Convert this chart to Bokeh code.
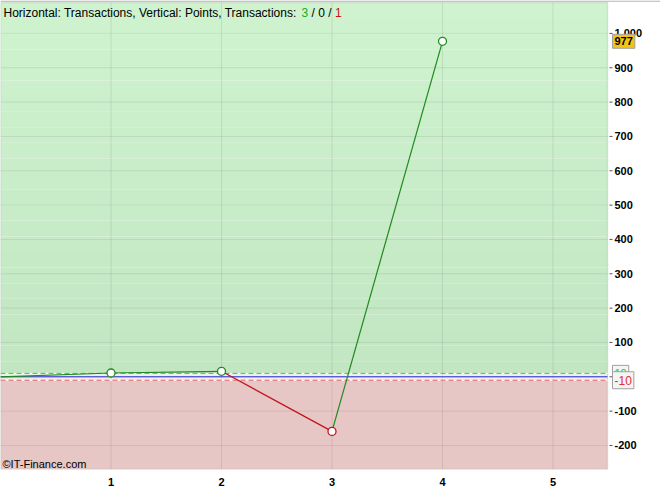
from bokeh.plotting import figure
from bokeh.models import BoxAnnotation, Label, FixedTicker, ColumnDataSource
from bokeh.core.properties import value
from bokeh.embed import file_html
from bokeh.resources import INLINE

# cumulative points after each transaction (transaction 0 = start)
trade_no = [0, 1, 2, 3, 4]
cum_points = [0, 11, 16, -159, 977]

# reference levels drawn as dashed lines
gain_level = 10
loss_level = -10

# winning / neutral / losing transaction counts
count_win, count_even, count_loss = 3, 0, 1

x_ticks = [1, 2, 3, 4, 5]
y_ticks = [-200, -100, 0, 100, 200, 300, 400, 500, 600, 700, 800, 900, 1000]
y_tick_labels = ["-200", "-100", "0", "100", "200", "300", "400", "500",
                 "600", "700", "800", "900", "1 000"]

GREEN = "#1f8a1f"
RED = "#c0141c"
FONT = "Liberation Sans"

# the frame spans the full width; the chart area ends at plot_right and the
# value scale is drawn to the right of it
PX_PER_X = 110.5
plot_right = 607 / PX_PER_X
x_end = 660 / PX_PER_X

FRAME_H = 469                      # frame height in pixels (top border is 0)
plot_lo, plot_hi = -270, 1090      # value range of the chart area
PTS_PER_PX = (plot_hi - plot_lo) / (FRAME_H - 2)
y_hi = plot_hi + 2 * PTS_PER_PX    # 2px strip above the chart area

p = figure(width=660, height=493, x_range=(0, x_end), y_range=(plot_lo, y_hi),
           output_backend="svg", toolbar_location=None, y_axis_location=None,
           min_border_left=0, min_border_right=0, min_border_top=0,
           min_border_bottom=24, background_fill_color="white",
           border_fill_color="white")
p.outline_line_color = None
p.xgrid.visible = False
p.ygrid.visible = False

# thin grey rule along the top edge
p.add_layout(BoxAnnotation(bottom=y_hi - 1.2 * PTS_PER_PX, fill_color="#b4b4b4",
                           fill_alpha=1, line_color=None, level="image"))

# background: green gradient above zero, pink below
top_rgb = (207, 242, 207)
bot_rgb = (194, 229, 194)
n_bands = 24
for i in range(n_bands):
    t = (i + 0.5) / n_bands
    c = tuple(int(round(b + (a - b) * t)) for a, b in zip(top_rgb, bot_rgb))
    p.add_layout(BoxAnnotation(left=0, right=plot_right,
                               bottom=plot_hi * i / n_bands, top=plot_hi * (i + 1) / n_bands,
                               fill_color="#%02x%02x%02x" % c, fill_alpha=1,
                               line_color=None, level="image"))
p.add_layout(BoxAnnotation(left=0, right=plot_right, top=0, fill_color="#e7c6c6",
                           fill_alpha=1, line_color=None, level="image"))
p.add_layout(BoxAnnotation(left=0, right=plot_right, bottom=loss_level, top=gain_level,
                           fill_color="white", fill_alpha=0.6, line_color=None,
                           level="image"))

# grid lines inside the chart area
p.segment(x0=x_ticks, x1=x_ticks, y0=[plot_lo] * len(x_ticks), y1=[plot_hi] * len(x_ticks),
          line_color="black", line_alpha=0.08, line_width=1)
p.segment(x0=[0] * len(y_ticks), x1=[plot_right] * len(y_ticks), y0=y_ticks, y1=y_ticks,
          line_color="black", line_alpha=0.08, line_width=1)

# reference lines
for lvl, col in ((gain_level, "#44bb44"), (loss_level, "#e06060")):
    p.segment(x0=[0], x1=[plot_right], y0=[lvl], y1=[lvl], line_color="white",
              line_width=1)
    p.segment(x0=[0], x1=[plot_right], y0=[lvl], y1=[lvl], line_color=col,
              line_width=1, line_dash="5 3")
p.segment(x0=[0], x1=[plot_right], y0=[0], y1=[0], line_color="#2a2ad0", line_width=1)

# chart area border
p.add_layout(BoxAnnotation(left=0, right=plot_right, bottom=plot_lo, top=plot_hi,
                           fill_alpha=0, line_color="#94b094", line_width=1.5,
                           level="underlay"))

# equity segments: green when rising, red when falling
seg_colors = [GREEN if b >= a else RED for a, b in zip(cum_points[:-1], cum_points[1:])]
seg_src = ColumnDataSource(dict(x0=trade_no[:-1], x1=trade_no[1:],
                                y0=cum_points[:-1], y1=cum_points[1:], c=seg_colors))
p.segment("x0", "y0", "x1", "y1", source=seg_src, line_color="c", line_width=1.2)

pt_src = ColumnDataSource(dict(x=trade_no[1:], y=cum_points[1:], c=seg_colors))
p.scatter("x", "y", source=pt_src, size=8, fill_color="white", line_color="c",
          line_width=1.3)

# value scale on the right of the chart area
tick_x0 = plot_right + 2 / PX_PER_X
tick_x1 = plot_right + 5 / PX_PER_X
p.segment(x0=[tick_x0] * len(y_ticks), x1=[tick_x1] * len(y_ticks), y0=y_ticks,
          y1=y_ticks, line_color="#555555", line_width=1)
p.text(x=[plot_right] * len(y_ticks), y=y_ticks, text=y_tick_labels, x_offset=7,
       text_font=value(FONT), text_font_style="bold", text_font_size="11px",
       text_color="black", text_baseline="middle", text_align="left")

# x axis
p.xaxis.ticker = FixedTicker(ticks=x_ticks)
p.xaxis.axis_line_color = None
p.xaxis.major_tick_line_color = None
p.xaxis.major_tick_out = 0
p.xaxis.major_tick_in = 0
p.xaxis.minor_tick_line_color = None
p.xaxis.major_label_standoff = 8
p.xaxis.major_label_text_font = FONT
p.xaxis.major_label_text_font_style = "bold"
p.xaxis.major_label_text_font_size = "11px"
p.xaxis.major_label_text_color = "black"

# value tags next to the scale
p.add_layout(Label(x=plot_right, y=gain_level, x_offset=5, text=str(gain_level),
                   text_font=FONT, text_font_size="11px", text_color="#33bb33",
                   text_baseline="middle", background_fill_color="#f4f4f4",
                   border_line_color="#a0a0a0", padding=(2, 4)))
p.add_layout(Label(x=plot_right, y=loss_level, x_offset=5, text=str(loss_level),
                   text_font=FONT, text_font_size="12px", text_color="#e03030",
                   text_baseline="middle", background_fill_color="#f4f4f4",
                   border_line_color="#a0a0a0", padding=(2, 4)))
p.add_layout(Label(x=plot_right, y=cum_points[-1], x_offset=5, text=str(cum_points[-1]),
                   text_font=FONT, text_font_size="11px", text_font_style="bold",
                   text_color="black", text_baseline="middle",
                   background_fill_color="#f2c414", border_line_color="#a0a0a0",
                   padding=(2, 3)))

# header line with coloured counts
fs = 12
x_start = 3
x_win = x_start + 24.842 * fs
x_mid = x_win + 0.834 * fs
x_loss = x_win + 2.780 * fs
header_y = plot_hi - 10 * PTS_PER_PX
header_parts = [(x_start, "Horizontal: Transactions, Vertical: Points, Transactions:", "black"),
                (x_win, str(count_win), "#22aa22"),
                (x_mid, "/ %d /" % count_even, "black"),
                (x_loss, str(count_loss), "#cc1010")]
for hx, txt, col in header_parts:
    p.add_layout(Label(x=hx, x_units="screen", y=header_y, text=txt, text_color=col,
                       text_font=FONT, text_font_size="%dpx" % fs,
                       text_baseline="alphabetic"))

p.add_layout(Label(x=2, x_units="screen", y=plot_lo, text="\u00a9IT-Finance.com",
                   text_font=FONT, text_font_size="11px", text_color="black",
                   text_baseline="bottom"))

open("out.html", "w").write(file_html(p, INLINE))
